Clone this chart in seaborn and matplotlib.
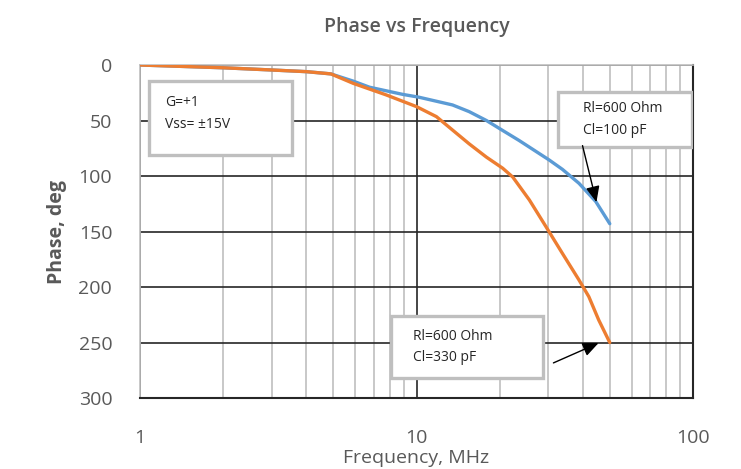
import numpy as np
import pandas as pd
import matplotlib
matplotlib.use("Agg")
import matplotlib.pyplot as plt
import seaborn as sns
from matplotlib.patches import Rectangle
from matplotlib.ticker import FixedLocator, NullFormatter

# Data
freq_100pF = [1, 2, 3, 4, 4.9, 5.9, 6.76, 8.93, 10.2, 13.5, 15.5, 17.9, 20.5, 23.5,
              25.6, 30.2, 33.7, 38.7, 44.5, 50]
phase_100pF = [0, 2.5, 4.5, 6, 8, 14.5, 20, 26.5, 29, 36, 42, 50, 59, 68,
               74, 85.6, 94, 106.6, 123, 143]
freq_330pF = [1, 2, 3, 4, 4.9, 5.9, 7.78, 10, 11.8, 13.5, 15.5, 17.9, 20.5, 22.3,
              25.6, 29.4, 33.7, 38.7, 42, 45.6, 50]
phase_330pF = [0, 2.5, 4.5, 6, 8, 16.5, 27, 37.5, 46.5, 58.6, 71, 83, 93, 101,
               121.6, 145.7, 169.7, 193.7, 208.7, 229.7, 250]
series_names = ["Cl=100 pF", "Cl=330 pF"]
y_ticks = [0, 50, 100, 150, 200, 250, 300]
x_ticks = [1, 10, 100]

df = pd.concat([
    pd.DataFrame({"freq": freq_100pF, "phase": phase_100pF, "series": series_names[0]}),
    pd.DataFrame({"freq": freq_330pF, "phase": phase_330pF, "series": series_names[1]}),
])

sns.set_theme(style="white")
plt.rcParams['font.family'] = ['Open Sans', 'DejaVu Sans']

fig = plt.figure(figsize=(7.41, 4.69), dpi=100)
ax = fig.add_axes([140/741, 1-398/469, 553/741, 333/469])

sns.lineplot(data=df, x="freq", y="phase", hue="series", sort=False,
             palette={series_names[0]: "#5B9BD5", series_names[1]: "#ED7D31"},
             linewidth=2.4, legend=False, ax=ax, zorder=3)

ax.set_xscale("log")
ax.set_xlim(1, 100)
ax.set_ylim(300, 0)
ax.set_xticks(x_ticks)
ax.set_xticklabels([str(t) for t in x_ticks])
ax.xaxis.set_minor_locator(FixedLocator([m * d for d in (1, 10) for m in range(2, 10)]))
ax.xaxis.set_minor_formatter(NullFormatter())
ax.set_yticks(y_ticks)
ax.tick_params(axis="both", which="both", length=0, labelsize=14, labelcolor="#595959")
ax.tick_params(axis="x", pad=22)
ax.tick_params(axis="y", pad=20)

ax.grid(True, which="minor", axis="x", color="#bfbfbf", linewidth=1.2)
ax.grid(True, which="major", axis="x", color="#262626", linewidth=1.2)
ax.grid(True, which="major", axis="y", color="#262626", linewidth=1.2)
ax.set_axisbelow(True)

for s in ("top", "left"):
    ax.spines[s].set_color("#bfbfbf")
    ax.spines[s].set_linewidth(1.2)
for s in ("bottom", "right"):
    ax.spines[s].set_color("#262626")
    ax.spines[s].set_linewidth(1.5)

ax.set_xlabel("Frequency, MHz", fontsize=14, color="#595959", labelpad=2)
ax.set_ylabel("Phase, deg", fontsize=14, color="#595959", fontweight="bold", labelpad=8)
ax.set_title("Phase vs Frequency", fontsize=14, color="#595959", fontweight="semibold", pad=24)

def box(x0, y0, x1, y1, lines, tx, ty):
    r = Rectangle((x0, y0), x1 - x0, y1 - y0, transform=ax.transAxes,
                  facecolor="white", edgecolor="#bfbfbf", linewidth=2.4, zorder=5)
    ax.add_patch(r)
    ax.text(tx, ty, lines, transform=ax.transAxes, fontsize=10, color="#262626",
            va="center", ha="left", linespacing=1.6, zorder=6)

box(0.016, 0.730, 0.275, 0.952, "G=+1\nVss= ±15V", 0.045, 0.855)
box(0.756, 0.754, 0.998, 0.919, "Rl=600 Ohm\nCl=100 pF", 0.801, 0.836)
box(0.454, 0.060, 0.729, 0.246, "Rl=600 Ohm\nCl=330 pF", 0.494, 0.153)

arrow = dict(arrowstyle="-|>,head_length=0.8,head_width=0.35", color="black", lw=1)
ax.annotate("", xy=(45, 126), xycoords="data", xytext=(0.799, 0.766),
            textcoords="axes fraction", arrowprops=arrow, zorder=7)
ax.annotate("", xy=(46.5, 249.5), xycoords="data", xytext=(0.743, 0.102),
            textcoords="axes fraction", arrowprops=arrow, zorder=7)

fig.savefig("out.png", dpi=100)
